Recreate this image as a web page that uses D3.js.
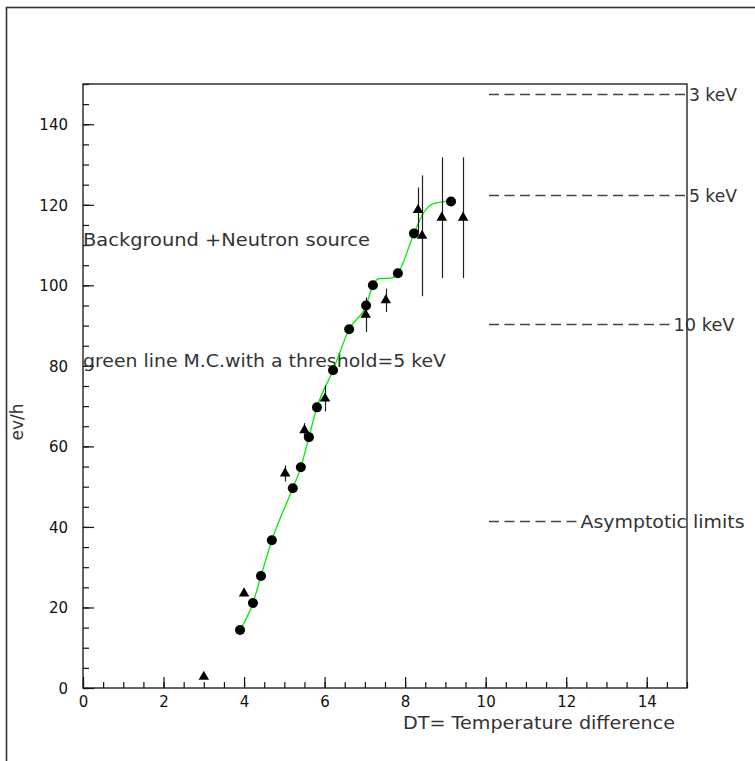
<!DOCTYPE html>
<html>
<head>
<meta charset="utf-8">
<script src="https://cdn.jsdelivr.net/npm/d3@7"></script>
<style>
  html, body { margin: 0; padding: 0; background: #fff; }
  svg { display: block; }
</style>
</head>
<body>
<svg id="chart" width="755" height="761"></svg>
<script>
// ---- data ----
const circleX = [3.9, 4.22, 4.42, 4.69, 5.21, 5.41, 5.61, 5.81, 6.21, 6.61, 7.03, 7.2, 7.82, 8.22, 9.14];
const circleY = [14.4, 21.1, 27.8, 36.7, 49.6, 54.8, 62.3, 69.7, 78.9, 89.1, 95.0, 100.0, 103.0, 112.9, 120.8];

const triX   = [3.0, 4.0, 5.02, 5.5, 6.01, 7.02, 7.52, 8.32, 8.42, 8.91, 9.44];
const triY   = [2.8, 23.5, 53.3, 64.0, 71.9, 92.7, 96.3, 118.7, 112.3, 116.8, 116.8];
const triErr = [0, 0, 2.0, 1.8, 3.2, 4.3, 2.9, 5.6, 15.0, 15.0, 15.0];

const mcX = [3.9, 4.22, 4.42, 4.69, 5.21, 5.41, 5.61, 5.81, 6.21, 6.61, 7.03, 7.2, 7.35, 7.65, 7.82, 8.22, 8.45, 8.7, 9.14];
const mcY = [14.4, 21.1, 27.8, 36.7, 49.6, 54.8, 62.3, 69.7, 78.9, 89.1, 95.0, 100.0, 101.7, 101.8, 103.0, 112.9, 117.9, 120.3, 121.0];

const xTickLabels = [0, 2, 4, 6, 8, 10, 12, 14];
const yTickLabels = [0, 20, 40, 60, 80, 100, 120, 140];

const limitLabels = ["3 keV", "5 keV", "10 keV", "Asymptotic limits"];
const limitLevels = [147.5, 122.5, 90.3, 41.4];
const limitDashes = [13, 13, 12, 6];
const limitWidths = [48, 48, 61, 164];

const xTitle = "DT= Temperature difference";
const yTitle = "ev/h";
const note1 = "Background +Neutron source";
const note2 = "green line M.C.with a threshold=5 keV";

// ---- layout ----
const svg = d3.select("#chart");
const L = 83, R = 687, T = 84, B = 688;
const x = d3.scaleLinear().domain([0, 15]).range([L, R]);
const y = d3.scaleLinear().domain([0, 150]).range([B, T]);
const FONT = "'DejaVu Sans', 'Liberation Sans', sans-serif";

// outer page frame
svg.append("rect").attr("x", 6.5).attr("y", 7.5).attr("width", 900).attr("height", 900)
  .attr("fill", "none").attr("stroke", "#333").attr("stroke-width", 1.6);

// plot frame
svg.append("rect").attr("x", L).attr("y", T).attr("width", R - L).attr("height", B - T)
  .attr("fill", "none").attr("stroke", "#111").attr("stroke-width", 1.3);

// x axis (ticks inside)
const xMinor = d3.range(0, 15.01, 0.5);
svg.append("g").attr("transform", `translate(0,${B})`)
  .call(d3.axisBottom(x).tickValues(xMinor).tickSize(-6).tickFormat(""))
  .call(g => g.select(".domain").remove())
  .call(g => g.selectAll("line").attr("stroke", "#111").attr("stroke-width", 1.2));
svg.append("g").attr("transform", `translate(0,${B})`)
  .call(d3.axisBottom(x).tickValues(xTickLabels).tickSize(-11).tickPadding(0).tickFormat(d3.format("d")))
  .call(g => g.select(".domain").remove())
  .call(g => g.selectAll("line").attr("stroke", "#111").attr("stroke-width", 1.2))
  .call(g => g.selectAll("text").attr("y", 19).attr("dy", 0)
    .attr("font-family", FONT).attr("font-size", 15).attr("fill", "#111"));

// y axis (ticks inside)
const yMinor = d3.range(0, 150.1, 5);
svg.append("g").attr("transform", `translate(${L},0)`)
  .call(d3.axisLeft(y).tickValues(yMinor).tickSize(-6).tickFormat(""))
  .call(g => g.select(".domain").remove())
  .call(g => g.selectAll("line").attr("stroke", "#111").attr("stroke-width", 1.2));
svg.append("g").attr("transform", `translate(${L},0)`)
  .call(d3.axisLeft(y).tickValues(yTickLabels).tickSize(-11).tickFormat(d3.format("d")))
  .call(g => g.select(".domain").remove())
  .call(g => g.selectAll("line").attr("stroke", "#111").attr("stroke-width", 1.2))
  .call(g => g.selectAll("text").attr("x", -15).attr("dy", "0.36em")
    .attr("font-family", FONT).attr("font-size", 15).attr("fill", "#111"));

// axis titles
svg.append("text").attr("x", 403).attr("y", 729)
  .attr("font-family", FONT).attr("font-size", 18).attr("fill", "#333")
  .attr("textLength", 272).attr("lengthAdjust", "spacingAndGlyphs").text(xTitle);
svg.append("text").attr("transform", "translate(23,422) rotate(-90)")
  .attr("text-anchor", "middle")
  .attr("font-family", FONT).attr("font-size", 17).attr("fill", "#333").text(yTitle);

// notes
svg.append("text").attr("x", 83).attr("y", 246)
  .attr("font-family", FONT).attr("font-size", 18).attr("fill", "#333")
  .attr("textLength", 287).attr("lengthAdjust", "spacingAndGlyphs").text(note1);
svg.append("text").attr("x", 83).attr("y", 367)
  .attr("font-family", FONT).attr("font-size", 18).attr("fill", "#333")
  .attr("textLength", 363).attr("lengthAdjust", "spacingAndGlyphs").text(note2);

// asymptotic limits (dashes + labels)
const dashStart = 489, dashPeriod = 15.5, dashLen = 10;
limitLabels.forEach((lab, i) => {
  const yy = Math.round(y(limitLevels[i])) + 0.5;
  const n = limitDashes[i];
  const xEnd = dashStart + n * dashPeriod - (dashPeriod - dashLen);
  svg.append("line").attr("x1", dashStart).attr("x2", xEnd).attr("y1", yy).attr("y2", yy)
    .attr("stroke", "#444").attr("stroke-width", 1.3)
    .attr("stroke-dasharray", `${dashLen},${dashPeriod - dashLen}`);
  svg.append("text").attr("x", xEnd + 4).attr("y", yy + 6.5)
    .attr("font-family", FONT).attr("font-size", 18).attr("fill", "#333")
    .attr("textLength", limitWidths[i]).attr("lengthAdjust", "spacingAndGlyphs").text(lab);
});

// MC green line
const mc = mcX.map((d, i) => [d, mcY[i]]);
svg.append("path").datum(mc)
  .attr("d", d3.line().x(d => x(d[0])).y(d => y(d[1])).curve(d3.curveMonotoneX))
  .attr("fill", "none").attr("stroke", "#00ee00").attr("stroke-width", 1.3);

// triangle error bars
const tri = triX.map((d, i) => ({x: d, y: triY[i], e: triErr[i]}));
svg.append("g").selectAll("line").data(tri.filter(d => d.e > 0)).join("line")
  .attr("x1", d => Math.round(x(d.x)) + 0.5).attr("x2", d => Math.round(x(d.x)) + 0.5)
  .attr("y1", d => y(d.y - d.e)).attr("y2", d => y(d.y + d.e))
  .attr("stroke", "#222").attr("stroke-width", 1.2);

// triangles
const triSym = d3.symbol().type(d3.symbolTriangle).size(48);
svg.append("g").selectAll("path").data(tri).join("path")
  .attr("transform", d => `translate(${x(d.x)},${y(d.y)})`)
  .attr("d", triSym).attr("fill", "#000");

// circles
const circ = circleX.map((d, i) => ({x: d, y: circleY[i]}));
svg.append("g").selectAll("circle").data(circ).join("circle")
  .attr("cx", d => x(d.x)).attr("cy", d => y(d.y)).attr("r", 5)
  .attr("fill", "#000");
</script>
</body>
</html>
